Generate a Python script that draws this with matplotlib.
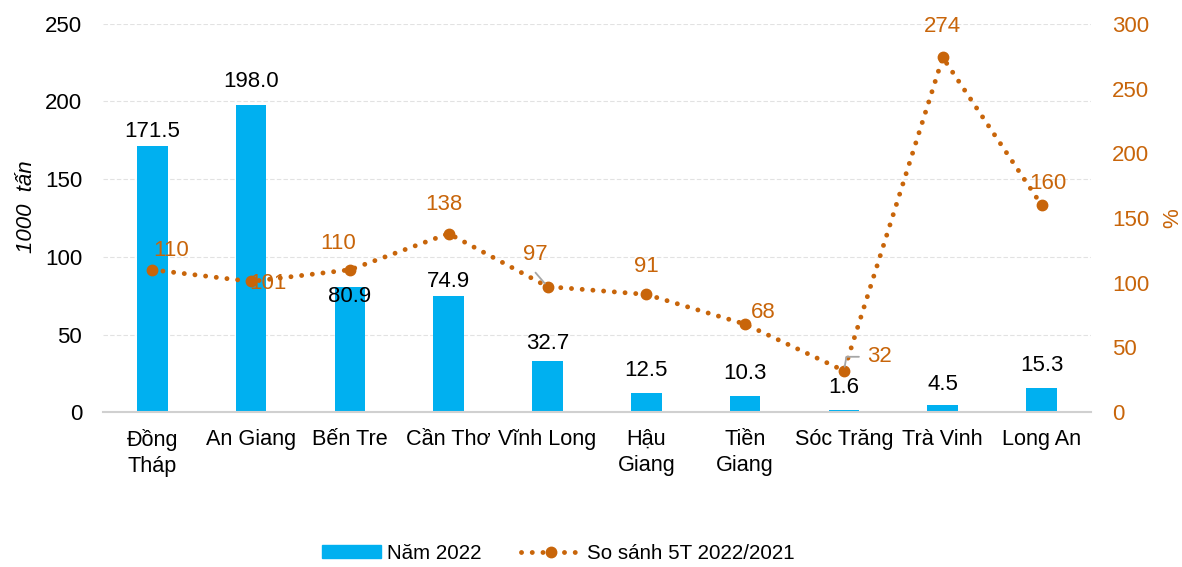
import matplotlib.pyplot as plt
from matplotlib.lines import Line2D
from matplotlib.patches import Patch

plt.rcParams["font.family"] = ["Liberation Sans", "DejaVu Sans"]

# data
provinces = ["Đồng\nTháp", "An Giang", "Bến Tre", "Cần Thơ", "Vĩnh Long",
             "Hậu\nGiang", "Tiền\nGiang", "Sóc Trăng", "Trà Vinh", "Long An"]
nam_2022 = [171.5, 198.0, 80.9, 74.9, 32.7, 12.5, 10.3, 1.6, 4.5, 15.3]
so_sanh = [110, 101, 110, 138, 97, 91, 68, 32, 274, 160]

BAR_COLOR = "#00B0F0"
LINE_COLOR = "#C8650A"
FS = 16
PX = 0.72  # points per pixel at 100 dpi

# label offsets in pixels (dx, dy) for the line labels
line_offsets = [(19, 19), (17, -2), (-12, 26), (-5, 29), (-12, 32),
                (0, 28), (18, 12), (36, 14), (0, 31), (6, 22)]
# bar label offsets in pixels above bar top; Bến Tre sits inside
bar_offsets = [14, 23, -10, 14, 18, 22, 23, 22, 21, 23]

fig = plt.figure(figsize=(11.82, 5.67), dpi=100)
ax = fig.add_axes([0.087, 0.273, 0.836, 0.685])
ax2 = ax.twinx()

x = list(range(len(provinces)))
ax.bar(x, nam_2022, width=0.31, color=BAR_COLOR, zorder=2)
ax.set_xlim(-0.5, len(provinces) - 0.5)
ax.set_ylim(0, 250)
ax.set_yticks(range(0, 251, 50))
ax.set_xticks(x)
ax.set_xticklabels(provinces, fontsize=FS - 0.4, linespacing=1.3)
ax.tick_params(axis="x", length=0, pad=12)
ax.tick_params(axis="y", length=0, labelsize=FS, pad=15)
ax.grid(axis="y", color="#E2E2E2", linestyle=(0, (4, 2)), linewidth=0.8, zorder=0)
ax.set_axisbelow(True)
for s in ["top", "right", "left"]:
    ax.spines[s].set_visible(False)
ax.spines["bottom"].set_color("#D0D0D0")
ax.spines["bottom"].set_linewidth(1.5)
ax.set_ylabel("1000  tấn", fontsize=FS, style="italic")
ax.yaxis.set_label_coords(-0.067, 0.53)

for xi, v, off in zip(x, nam_2022, bar_offsets):
    ax.annotate(f"{v:.1f}", (xi, v), xytext=(0, off * PX), textcoords="offset points",
                ha="center", va="center", fontsize=FS, color="black")

dot_style = dict(color=LINE_COLOR, linestyle=(0, (0.01, 2.2)), linewidth=3.5,
                 marker="o", markersize=7.5, dash_capstyle="round")
ax2.plot(x, so_sanh, zorder=3, **dot_style)
ax2.set_ylim(0, 300)
ax2.set_yticks(range(0, 301, 50))
ax2.tick_params(axis="y", length=0, labelsize=FS, labelcolor=LINE_COLOR, pad=15)
for s in ["top", "right", "left", "bottom"]:
    ax2.spines[s].set_visible(False)
ax2.set_ylabel("%", fontsize=FS, color=LINE_COLOR)
ax2.yaxis.set_label_coords(1.072, 0.5)

for xi, v, (dx, dy) in zip(x, so_sanh, line_offsets):
    ax2.annotate(str(v), (xi, v), xytext=(dx * PX, dy * PX), textcoords="offset points",
                 ha="center", va="center", fontsize=FS, color=LINE_COLOR)

# leader lines for 97 and 32
ax2.annotate("", (x[4], so_sanh[4]), xytext=(-12 * PX, 14 * PX), textcoords="offset points",
             arrowprops=dict(arrowstyle="-", color="#A6A6A6", lw=1.3, shrinkA=0, shrinkB=3))
ax2.annotate("", (x[7], so_sanh[7]), xytext=(15 * PX, 14 * PX), textcoords="offset points",
             arrowprops=dict(arrowstyle="-", color="#A6A6A6", lw=1.3, shrinkA=0, shrinkB=3,
                             connectionstyle="angle,angleA=0,angleB=80,rad=0"))

handles = [Patch(color=BAR_COLOR, label="Năm 2022"),
           Line2D([0], [0], label="So sánh 5T 2022/2021", **dot_style)]
fig.legend(handles=handles, loc="center", bbox_to_anchor=(0.472, 0.024), ncol=2,
           frameon=False, fontsize=14.8, handlelength=2.9, handleheight=0.6,
           columnspacing=1.9, handletextpad=0.3)

fig.savefig("out.png", dpi=100)
